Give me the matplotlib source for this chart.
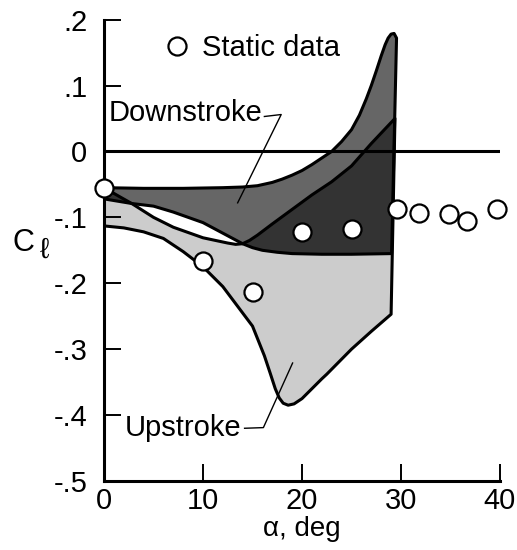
import numpy as np
import matplotlib
matplotlib.use("Agg")
import matplotlib.pyplot as plt
from matplotlib.patches import Polygon

plt.rcParams['font.family'] = ['Liberation Sans', 'DejaVu Sans']

# Static (steady) section lift coefficient
static_alpha = [0, 10, 15, 20, 25, 29.6, 31.8, 34.8, 36.7, 39.7]
static_cl = [-0.055, -0.166, -0.214, -0.122, -0.117, -0.087, -0.093, -0.095, -0.105, -0.087]

# Downstroke band: upper and lower envelopes
down_upper_alpha = [0, 4, 8, 12, 14, 15.5, 17, 18, 19, 20, 21, 22, 23, 24, 25, 25.8,
                    26.5, 27, 27.5, 28, 28.4, 28.7, 29.0, 29.3, 29.55]
down_upper_cl = [-0.055, -0.056, -0.056, -0.055, -0.054, -0.052, -0.047, -0.042, -0.036,
                 -0.029, -0.02, -0.01, 0.0, 0.015, 0.033, 0.055, 0.08, 0.1, 0.122, 0.145,
                 0.162, 0.172, 0.178, 0.179, 0.172]
down_lower_alpha = [0, 2.8, 5, 7, 10, 12, 13, 14, 15, 16, 17.5, 19, 22, 25, 29.05]
down_lower_cl = [-0.072, -0.079, -0.083, -0.092, -0.108, -0.124, -0.132, -0.14, -0.146,
                 -0.15, -0.153, -0.155, -0.156, -0.156, -0.155]

# Upstroke band: upper and lower envelopes
up_upper_alpha = [0, 1.5, 2.8, 5, 7, 10, 12.5, 13.3, 14, 14.7, 15.5, 17, 19, 21, 23, 25,
                  27, 29.39]
up_upper_cl = [-0.055, -0.068, -0.079, -0.1, -0.115, -0.131, -0.139, -0.141, -0.14, -0.135,
               -0.127, -0.11, -0.088, -0.066, -0.046, -0.022, 0.012, 0.05]
up_lower_alpha = [0, 2, 4, 6, 8, 10, 12, 13.5, 15, 16.2, 16.8, 17.3, 17.7, 18.1, 18.6,
                  19.2, 20, 21, 22, 22.5, 25, 27, 29.0]
up_lower_cl = [-0.113, -0.116, -0.122, -0.132, -0.152, -0.175, -0.205, -0.235, -0.265,
               -0.31, -0.337, -0.36, -0.374, -0.382, -0.385, -0.383, -0.375, -0.36,
               -0.345, -0.338, -0.3, -0.273, -0.247]

x_ticks = [0, 10, 20, 30, 40]
x_tick_labels = ['0', '10', '20', '30', '40']
y_ticks = [0.2, 0.1, 0.0, -0.1, -0.2, -0.3, -0.4, -0.5]
y_tick_labels = ['.2', '.1', '0', '-.1', '-.2', '-.3', '-.4', '-.5']

FS = 21
LW = 2.2

fig = plt.figure(figsize=(5.17, 5.5), dpi=100)
ax = fig.add_axes([104 / 517, 1 - 481 / 550, 396 / 517, (481 - 19.6) / 550])


def band(ua, uc, la, lc):
    xs = list(ua) + list(la)[::-1]
    ys = list(uc) + list(lc)[::-1]
    return np.column_stack([xs, ys])


down_verts = band(down_upper_alpha, down_upper_cl, down_lower_alpha, down_lower_cl)
up_verts = band(up_upper_alpha, up_upper_cl, up_lower_alpha, up_lower_cl)

down_patch = Polygon(down_verts, closed=True, fc='#666666', ec='none', zorder=1)
up_patch = Polygon(up_verts, closed=True, fc='#cccccc', ec='none', zorder=1)
ax.add_patch(down_patch)
ax.add_patch(up_patch)

# where the two bands overlap
overlap = Polygon(down_verts, closed=True, fc='#333333', ec='none', zorder=2)
ax.add_patch(overlap)
overlap.set_clip_path(up_patch)

for verts in (down_verts, up_verts):
    ax.add_patch(Polygon(verts, closed=True, fill=False, ec='black', lw=LW,
                         joinstyle='round', zorder=3))

ax.axhline(0, color='black', lw=LW, zorder=4)

ax.plot(static_alpha, static_cl, 'o', ms=13, mfc='white', mec='black', mew=1.6,
        ls='none', clip_on=False, zorder=6, label='Static data')

leg = ax.legend(loc='center left', bbox_to_anchor=(0.1485, 0.939), frameon=False,
                fontsize=FS, borderpad=0, borderaxespad=0, handlelength=0.95,
                handletextpad=0.4)

# band labels with leader lines
ax.text(16.0, 0.059, 'Downstroke', fontsize=FS, ha='right', va='center', zorder=5)
ax.plot([16.2, 17.9, 13.5], [0.053, 0.056, -0.078], color='black', lw=1.0, zorder=5)
ax.text(13.9, -0.42, 'Upstroke', fontsize=FS, ha='right', va='center', zorder=5)
ax.plot([14.2, 16.1, 19.05], [-0.42, -0.419, -0.321], color='black', lw=1.0, zorder=5)

ax.set_xlim(0, 40)
ax.set_ylim(-0.5, 0.2)
ax.set_xticks(x_ticks)
ax.set_xticklabels(x_tick_labels)
ax.set_yticks(y_ticks)
ax.set_yticklabels(y_tick_labels)
ax.tick_params(axis='both', direction='in', length=12, width=1.4, labelsize=FS)
ax.tick_params(axis='y', pad=12)
ax.tick_params(axis='x', pad=4)

for side in ('top', 'right'):
    ax.spines[side].set_visible(False)
for side in ('left', 'bottom'):
    ax.spines[side].set_linewidth(LW)

ax.set_xlabel('α, deg', fontsize=20, labelpad=1)

fig.text(12 / 517, 1 - 243 / 550, 'C', fontsize=FS + 1, ha='left', va='center')
fig.text(40 / 517, 1 - 250 / 550, 'ℓ', fontsize=FS, ha='left', va='center')

fig.savefig('out.png', dpi=100)
